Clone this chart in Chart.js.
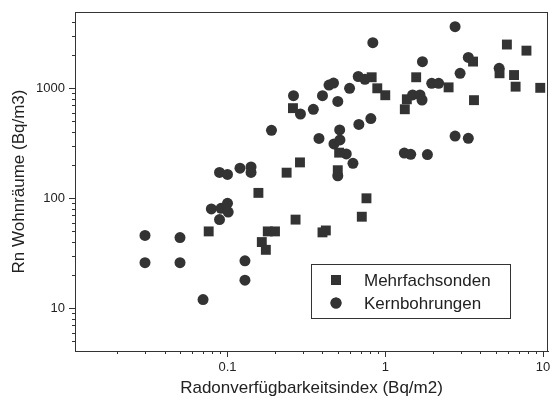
<!DOCTYPE html>
<html>
<head>
<meta charset="utf-8">
<script src="https://cdn.jsdelivr.net/npm/chart.js@4.4.1/dist/chart.umd.min.js"></script>
<style>
  html, body { margin: 0; padding: 0; background: #fff; }
  #wrap { width: 555px; height: 400px; }
</style>
</head>
<body>
<div id="wrap"><canvas id="chart" width="555" height="400"></canvas></div>
<script>
const SERIES = ['Mehrfachsonden', 'Kernbohrungen'];

// Mehrfachsonden (Quadrate)
const sondenX = [0.076, 0.157, 0.18, 0.2, 0.165, 0.175, 0.237, 0.288, 0.26, 0.27,
  0.4, 0.42, 0.5, 0.51, 0.76, 0.71, 0.82, 0.89, 1.0, 1.33,
  1.37, 1.57, 2.52, 3.6, 3.65, 5.3, 5.9, 7.85, 6.55, 6.7, 9.6];
const sondenY = [50, 112, 50, 50, 40, 34, 171, 212, 660, 64,
  49, 51, 180, 260, 100, 68, 1260, 1000, 865, 645,
  795, 1260, 1020, 1750, 780, 1370, 2500, 2200, 1320, 1035, 1010];

// Kernbohrungen (Kreise)
const bohrX = [0.03, 0.03, 0.05, 0.05, 0.07, 0.079, 0.091, 0.1, 0.101, 0.089,
  0.089, 0.1, 0.12, 0.141, 0.141, 0.129, 0.129, 0.19, 0.262, 0.29,
  0.35, 0.4, 0.44, 0.47, 0.5, 0.594, 0.674, 0.743, 0.834, 0.38,
  0.473, 0.516, 0.514, 0.566, 0.624, 0.5, 0.68, 0.81, 1.32, 1.45,
  1.85, 1.49, 1.66, 1.71, 1.72, 1.97, 2.18, 2.77, 3.36, 2.98,
  2.77, 3.36, 5.27];
const bohrY = [46, 26, 44, 26, 12, 80, 81, 90, 75, 64,
  172, 165, 188, 193, 172, 27, 18, 415, 857, 584,
  644, 857, 1070, 1115, 760, 1000, 1280, 1207, 2600, 350,
  312, 339, 418, 253, 208, 160, 469, 531, 258, 251,
  250, 870, 870, 783, 1745, 1110, 1110, 3630, 1910, 1370,
  368, 351, 1520];

const X_TICKS = [0.1, 1, 10];
const Y_TICKS = [10, 100, 1000];

const INK = '#333';
const FONT = "'Liberation Sans', Arial, sans-serif";

const toPoints = (xs, ys) => xs.map((x, i) => ({ x, y: ys[i] }));

// Rahmen + Haupt-/Nebenstriche an der x- und y-Achse
const frame = {
  id: 'frame',
  afterDatasetsDraw(chart) {
    const { ctx, chartArea: a, scales: { x, y } } = chart;
    ctx.save();
    ctx.strokeStyle = INK;
    ctx.lineWidth = 1;
    ctx.strokeRect(a.left + 0.5, a.top + 0.5, a.right - a.left - 1, a.bottom - a.top);
    ctx.beginPath();
    for (let e = -3; e <= 4; e++) {
      for (let m = 1; m <= 9; m++) {
        const v = m * Math.pow(10, e);
        const len = m === 1 ? 6 : 3;
        if (v >= x.min && v <= x.max) {
          const px = Math.round(x.getPixelForValue(v)) + 0.5;
          ctx.moveTo(px, a.bottom);
          ctx.lineTo(px, a.bottom + len);
        }
        if (v >= y.min && v <= y.max) {
          const py = Math.round(y.getPixelForValue(v)) + 0.5;
          ctx.moveTo(a.left, py);
          ctx.lineTo(a.left - len, py);
        }
      }
    }
    ctx.stroke();
    ctx.restore();
  }
};

// Legende als Kasten unten rechts im Diagramm
const boxLegend = {
  id: 'boxLegend',
  afterDraw(chart) {
    const { ctx } = chart;
    const bx = 311, by = 264, bw = 199, bh = 54;
    ctx.save();
    ctx.strokeStyle = INK;
    ctx.lineWidth = 1;
    ctx.strokeRect(bx + 0.5, by + 0.5, bw, bh);
    ctx.font = '17px ' + FONT;
    ctx.textBaseline = 'middle';
    chart.data.datasets.forEach((ds, i) => {
      const cy = by + 16 + i * 23;
      Chart.helpers.drawPoint(ctx, {
        pointStyle: ds.pointStyle, radius: i === 0 ? 7 : 5.5, borderWidth: 0
      }, bx + 25, cy);
      ctx.fillStyle = INK;
      ctx.fill();
      ctx.fillStyle = '#222';
      ctx.fillText(ds.label, bx + 53, cy + 1);
    });
    ctx.restore();
  }
};

new Chart(document.getElementById('chart'), {
  type: 'scatter',
  data: {
    datasets: [
      {
        label: SERIES[0],
        data: toPoints(sondenX, sondenY),
        pointStyle: 'rect',
        pointRadius: 7,
        backgroundColor: INK,
        borderWidth: 0
      },
      {
        label: SERIES[1],
        data: toPoints(bohrX, bohrY),
        pointStyle: 'circle',
        pointRadius: 5.5,
        backgroundColor: INK,
        borderWidth: 0
      }
    ]
  },
  options: {
    responsive: false,
    animation: false,
    layout: { padding: { top: 12, right: 5, left: 0, bottom: 0 } },
    plugins: { legend: { display: false }, tooltip: { enabled: false } },
    scales: {
      x: {
        type: 'logarithmic',
        min: 0.0108,
        max: 10.75,
        afterBuildTicks: s => { s.ticks = X_TICKS.map(v => ({ value: v })); },
        afterFit: s => { s.height = 49; s.paddingLeft = 0; s.paddingRight = 0; },
        grid: { display: false, drawTicks: false },
        border: { display: true, color: INK, width: 1 },
        ticks: {
          padding: 9,
          color: '#222',
          font: { family: FONT, size: 13 },
          maxRotation: 0,
          callback: v => String(v)
        },
        title: {
          display: true,
          text: 'Radonverfügbarkeitsindex (Bq/m2)',
          color: '#222',
          font: { family: FONT, size: 17 },
          padding: { top: 0, bottom: 1 }
        }
      },
      y: {
        type: 'logarithmic',
        min: 4.09,
        max: 4940,
        afterBuildTicks: s => { s.ticks = Y_TICKS.map(v => ({ value: v })); },
        afterFit: s => { s.width = 75; s.paddingTop = 0; s.paddingBottom = 0; },
        grid: { display: false, drawTicks: false },
        border: { display: true, color: INK, width: 1 },
        ticks: {
          padding: 10,
          color: '#222',
          font: { family: FONT, size: 13 },
          callback: v => String(v)
        },
        title: {
          display: true,
          text: 'Rn Wohnräume (Bq/m3)',
          color: '#222',
          font: { family: FONT, size: 17 },
          padding: { top: 9, bottom: 0 }
        }
      }
    }
  },
  plugins: [frame, boxLegend]
});
</script>
</body>
</html>
